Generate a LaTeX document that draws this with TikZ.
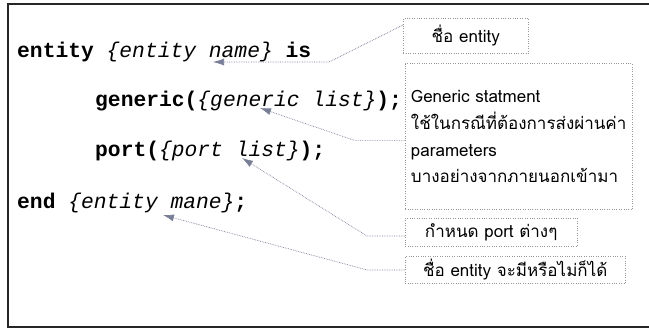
\documentclass[tikz,border=0pt]{standalone}
\usepackage{fontspec}
\setmonofont{Liberation Mono}
\newfontfamily\thaifont[Script=Thai]{Loma}
\usetikzlibrary{positioning, arrows.meta}
\definecolor{notegray}{RGB}{120,126,150}
\definecolor{boxgray}{RGB}{150,150,150}
\newcommand{\codearg}[1]{{\mdseries\itshape\{#1\}}}

\begin{document}
\begin{tikzpicture}[x=1pt, y=-1pt,
    code/.style={anchor=base west, inner sep=0pt, font=\fontsize{21.3}{24}\selectfont\ttfamily\bfseries},
    note/.style={draw=boxgray, dotted, inner sep=0pt, font=\fontsize{17}{26.7}\selectfont\thaifont},
    link/.style={draw=notegray, densely dotted, line width=0.7pt, -{Latex[length=11pt, width=7pt]}}]
    \useasboundingbox (0,0) rectangle (649,332);
    \draw[line width=1.5pt, black!85] (660,4) -- (8,4) -- (8,327) -- (660,327);

    % code lines
    \node[code] (ent) at (17,57) {entity \codearg{entity name} is};
    \node[code] (gen) at (95,106) {generic(\codearg{generic list});};
    \node[code] (port) at (95,156) {port(\codearg{port list});};
    \node[code] (fin) at (17,208) {end \codearg{entity mane};};

    % notes
    \node[note, minimum width=125pt, minimum height=35pt, anchor=north west] (nameB) at (403,18) {ชื่อ entity};
    \node[note, minimum width=227pt, minimum height=146pt, align=left, below right=10pt and 2pt of nameB.south west] (genB)
        {Generic statment\\ใช้ในกรณีที่ต้องการส่งผ่านค่า\\parameters\\บางอย่างจากภายนอกเข้ามา};
    \node[note, minimum width=172pt, minimum height=28pt, below right=8pt and 0pt of genB.south west] (portB) {กำหนด port ต่างๆ};
    \node[note, minimum width=220pt, minimum height=27pt, below right=10pt and 0pt of portB.south west] (endB) {ชื่อ entity จะมีหรือไม่ก็ได้};

    \coordinate (nameTip) at (213,62);
    \coordinate (genTip) at (260,108);
    \coordinate (portTip) at (242,158);
    \coordinate (endTip) at (163,215);

    \draw[link] ([yshift=-7pt]nameB.north west) -- ++(-74,37) -- (nameTip);
    \draw[link] ([yshift=-4pt]genB.west) -- ++(-50,0) -- (genTip);
    \draw[link] ([yshift=-4pt]portB.west) -- ++(-38,0) -- (portTip);
    \draw[link] (endB.west) -- ++(-38,0) -- (endTip);
\end{tikzpicture}
\end{document}
